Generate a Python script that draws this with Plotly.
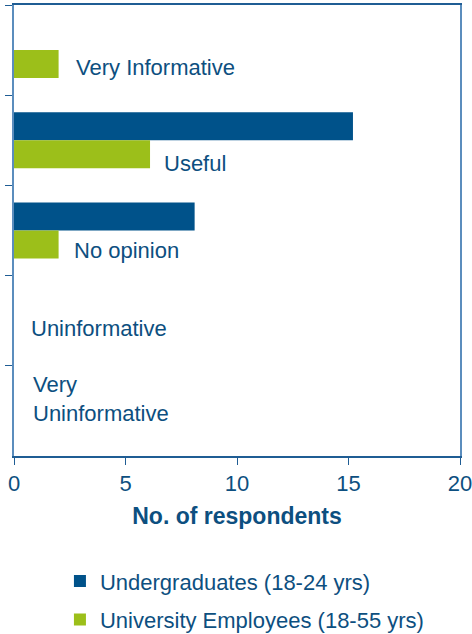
import plotly.graph_objects as go

categories = ["Very Informative", "Useful", "No opinion", "Uninformative", "Very Uninformative"]
category_labels = ["Very Informative", "Useful", "No opinion", "Uninformative", "Very<br>Uninformative"]
undergrads = [0, 15.2, 8.1, 0, 0]
employees = [2, 6.1, 2, 0, 0]
series_names = ["Undergraduates (18-24 yrs)", "University Employees (18-55 yrs)"]
x_ticks = [0, 5, 10, 15, 20]

DARK = "#00528a"
GREEN = "#9cbf1a"
TEXT = "#0d4f80"
FONT = "Liberation Sans, Arial, sans-serif"

fig = go.Figure()
fig.add_trace(go.Bar(y=categories, x=undergrads, orientation="h", name=series_names[0],
                     marker=dict(color=DARK, line=dict(width=0)), legendgroup="a"))
fig.add_trace(go.Bar(y=categories, x=employees, orientation="h", name=series_names[1],
                     marker=dict(color=GREEN, line=dict(width=0)), legendgroup="b"))

# label placement (x in data units, vertical shift in px)
label_pos = [(2.69, -17), (6.64, -23), (2.6, -20), (0.67, -8), (0.77, 12)]
for cat, lab, (lx, ys) in zip(categories, category_labels, label_pos):
    fig.add_annotation(x=lx, y=cat, xref="x", yref="y", text=lab, showarrow=False,
                       xanchor="left", yanchor="middle", yshift=ys, align="left",
                       font=dict(family=FONT, size=22, color=TEXT))

fig.update_layout(
    width=472, height=634,
    margin=dict(l=14, r=12, t=5, b=178, autoexpand=False),
    paper_bgcolor="white", plot_bgcolor="white",
    barmode="group", bargap=0.38, bargroupgap=0,
    font=dict(family=FONT, size=22, color=TEXT),
    showlegend=True,
    legend=dict(x=0.103, y=-0.231, xanchor="left", yanchor="top", orientation="v",
                traceorder="grouped", tracegroupgap=7,
                font=dict(family=FONT, size=22, color=TEXT), bgcolor="rgba(0,0,0,0)"),
    xaxis=dict(range=[0, 20], tickvals=x_ticks, ticks="outside", ticklen=7,
               tickcolor="#1f5d94", showline=True, linecolor="#1f5d94", linewidth=2,
               mirror=True, showgrid=False, zeroline=False, automargin=False,
               ticklabeloverflow="allow",
               tickfont=dict(family=FONT, size=22, color=TEXT),
               title=dict(text="<b>No. of respondents</b>", standoff=12,
                          font=dict(family=FONT, size=23, color=TEXT))),
    yaxis=dict(type="category", categoryorder="array", categoryarray=categories,
               autorange="reversed", showticklabels=False, ticks="outside", ticklen=7,
               tickson="boundaries", tickcolor="#1f5d94", automargin=False,
               showline=True, linecolor="#5b8dbd", linewidth=2, mirror=True,
               showgrid=False, zeroline=False),
)

fig.write_html("out.html", config={"displayModeBar": False},
               post_script="document.body.style.margin='0px';document.body.style.overflow='hidden';")
